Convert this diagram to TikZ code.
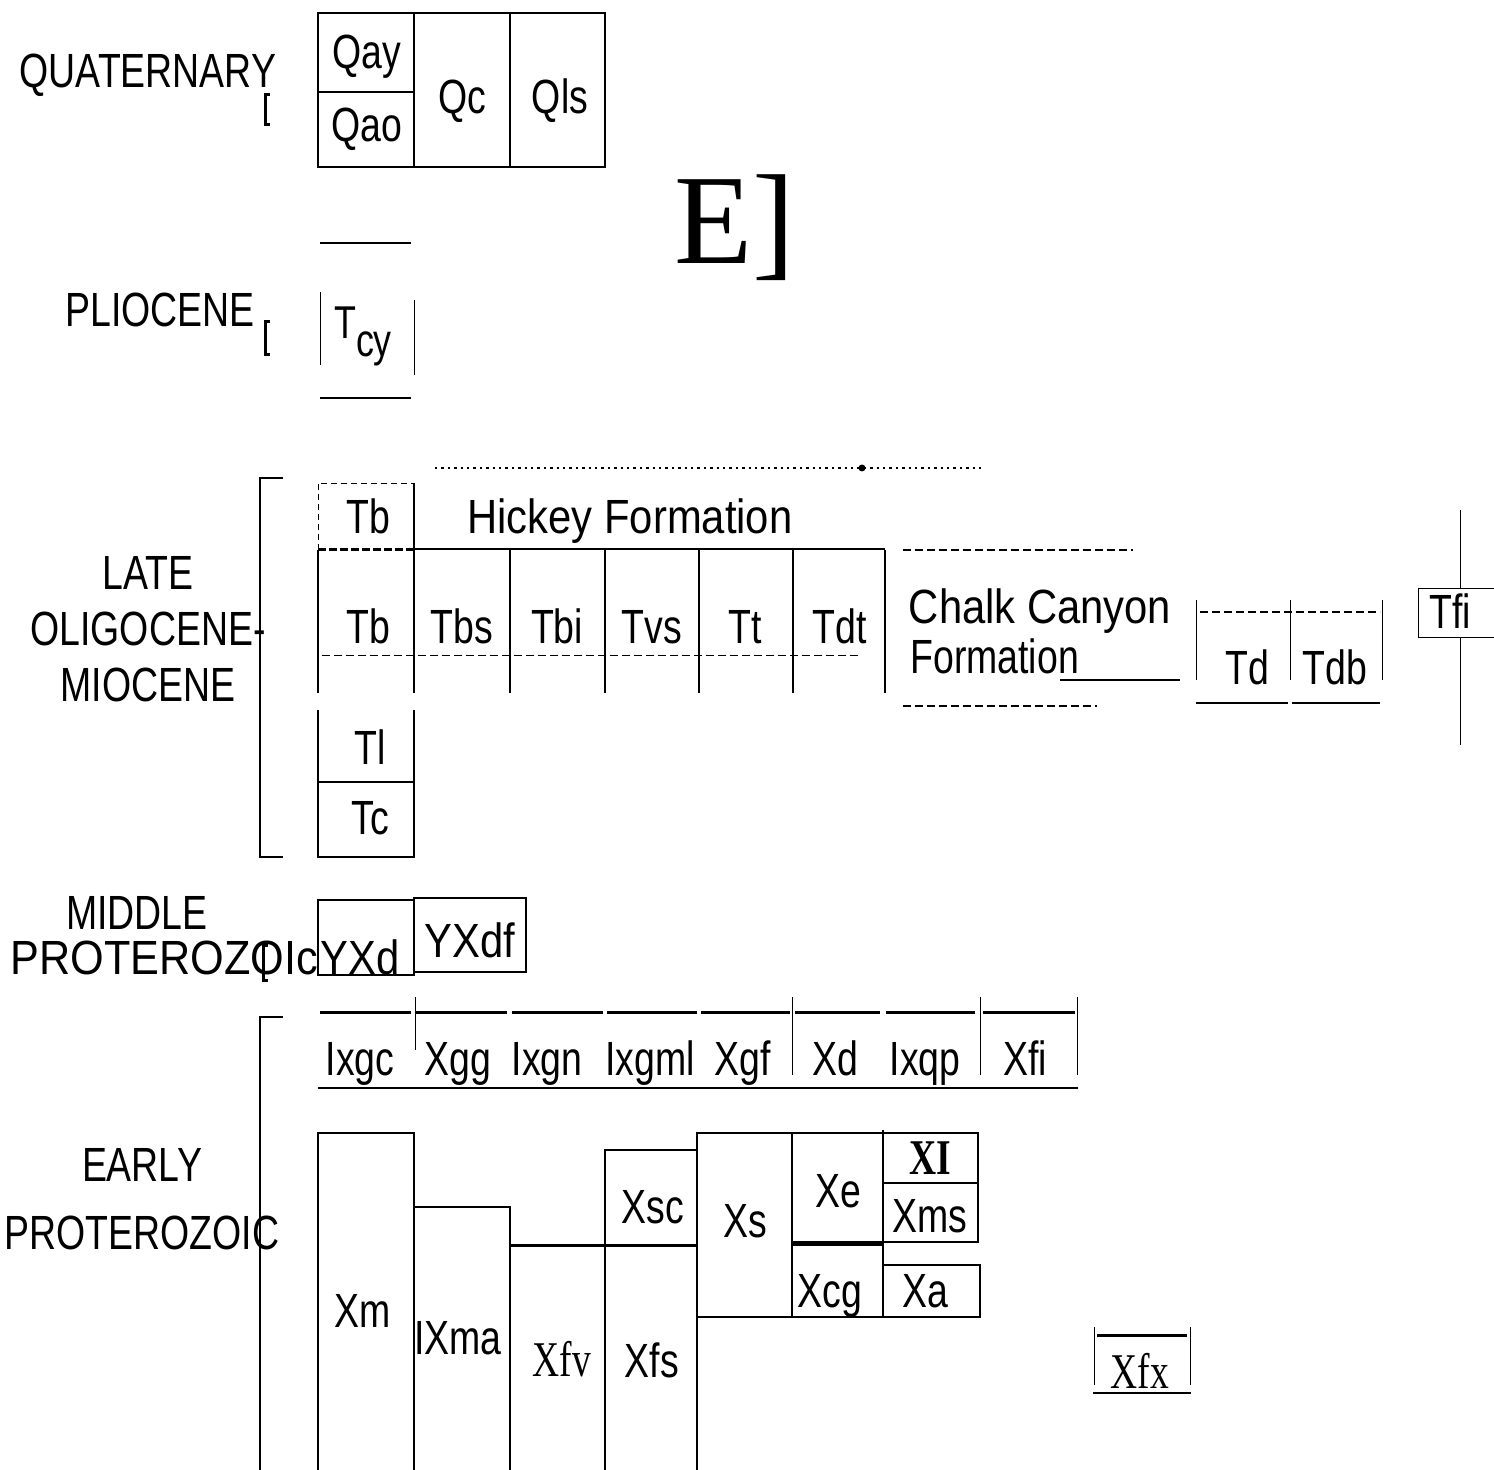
\documentclass[tikz,border=0pt]{standalone}
\usepackage{fontspec}
\setmainfont{Liberation Sans}
\newfontfamily\narrowsf[FakeStretch=0.78]{Liberation Sans}
\newfontfamily\semisf[FakeStretch=0.87]{Liberation Sans}
\newfontfamily\widesf[FakeStretch=0.9]{Liberation Sans}
\newfontfamily\serifrm[FakeStretch=0.75]{Liberation Serif}
\newfontfamily\bigserif{Liberation Serif}
\tikzset{
  unit/.style={font=\narrowsf\fontsize{24}{24}\selectfont, inner sep=0pt, text height=17pt, text depth=0pt},
  wideunit/.style={font=\semisf\fontsize{24}{24}\selectfont, inner sep=0pt, text height=17pt, text depth=0pt},
  serifunit/.style={font=\serifrm\fontsize{25}{25}\selectfont, inner sep=0pt, text height=16pt, text depth=0pt},
  age/.style={font=\narrowsf\fontsize{24}{28}\selectfont, inner sep=0pt, align=center},
  contact/.style={line width=1pt},
  fuzzy/.style={line width=0.6pt, dash pattern=on 4pt off 2pt},
}
\begin{document}
\begin{tikzpicture}[x=0.5pt, y=-0.5pt, line cap=butt, line join=miter]
  \useasboundingbox (0,0) rectangle (1494,1470);

  % Quaternary
  \node[age] (quat) at (148,75) {QUATERNARY};
  \draw[line width=1.5pt] (270,95) -- (265,95) -- (265,125) -- (270,125);
  \draw[contact] (318,13) rectangle (605,167);
  \draw[contact] (414,13) -- (414,167) (510,13) -- (510,167) (318,92) -- (414,92);
  \node[unit] (qay) at (367,52) {Qay};
  \node[unit] (qao) at (367,125) {Qao};
  \node[unit] (qc) at (462,97) {Qc};
  \node[unit] (qls) at (560,97) {Qls};
  \node[font=\bigserif\fontsize{64}{64}\selectfont, inner sep=0pt] (bigE) at (735,228) {E]};

  % Pliocene
  \draw[contact] (320,243) -- (411,243) (320,398) -- (411,398);
  \node[age] (plio) at (160,310) {PLIOCENE};
  \draw[line width=1.5pt] (270,322) -- (265,322) -- (265,355) -- (270,355);
  \draw[thin] (320,292) -- (320,365) (414,300) -- (414,375);
  \node[font=\narrowsf\fontsize{23}{23}\selectfont, inner sep=0pt] (tcy) at (363,336) {T\raisebox{-9pt}{cy}};

  % Late Oligocene-Miocene
  \node[age, font=\narrowsf\fontsize{24}{28}\selectfont] (olig) at (148,629) {LATE\\OLIGOCENE-\\MIOCENE};
  \draw[contact] (283,478) -- (260,478) -- (260,857) -- (283,857);
  \draw[dotted, line width=1.2pt] (435,468) -- (985,468);
  \fill (862,468) circle (3.5);
  \draw[thin, densely dashed] (318,550) -- (318,483) -- (414,483);
  \draw[line width=1.5pt, dash pattern=on 4pt off 1.5pt] (318,550) -- (414,550);
  \draw[contact] (414,483) -- (414,693) (414,549) -- (885,549);
  \foreach \x in {318,510,605,699,793,885} \draw[contact] (\x,550) -- (\x,693);
  \node[unit] (tbtop) at (368,517) {Tb};
  \node[wideunit] (hickey) at (630,517) {Hickey Formation};
  \foreach \x/\t in {368/Tb,462/Tbs,557/Tbi,652/Tvs,745/Tt,840/Tdt}
    \node[unit] (u\t) at (\x,627) {\t};
  \draw[fuzzy, thin] (322,655) -- (860,655);

  % Chalk Canyon
  \draw[fuzzy] (903,550) -- (1133,550) (903,706) -- (1097,706);
  \node[wideunit] (chalk) at (1040,607) {Chalk Canyon};
  \node[unit, anchor=west] (fmn) at (910,657) {Formation};
  \draw[contact] (1060,680) -- (1180,680);
  \draw[thin] (1196,600) -- (1196,680) (1290,600) -- (1290,680) (1382,600) -- (1382,680);
  \draw[fuzzy] (1200,612) -- (1380,612);
  \node[unit] (td) at (1247,667) {Td};
  \node[unit] (tdb) at (1335,667) {Tdb};
  \draw[contact] (1196,703) -- (1288,703) (1292,703) -- (1380,703);
  \draw[thin] (1460,510) -- (1460,745);
  \draw[thin, fill=white] (1494,588) -- (1418,588) -- (1418,637) -- (1494,637);
  \node[unit] (tfi) at (1450,612) {Tfi};
  \draw[contact] (318,710) -- (318,857) -- (414,857) -- (414,710) (318,782) -- (414,782);
  \node[unit] (tl) at (370,747) {Tl};
  \node[unit] (tc) at (370,817) {Tc};

  % Middle Proterozoic
  \node[age] (midtop) at (137,913) {MIDDLE};
  \node[font=\widesf\fontsize{24}{24}\selectfont, inner sep=0pt, anchor=west, text height=17pt, text depth=0pt] (midprot) at (10,957) {PROTEROZOIc};
  \draw[line width=1.5pt] (268,945) -- (263,945) -- (263,980) -- (268,980);
  \draw[contact] (318,900) rectangle (414,975) (414,898) rectangle (526,972);
  \node[wideunit] (yxd) at (360,957) {YXd};
  \node[wideunit] (yxdf) at (470,940) {YXdf};

  % Early Proterozoic
  \node[age, font=\narrowsf\fontsize{24}{34}\selectfont] (early) at (142,1199) {EARLY\\PROTEROZOIC};
  \draw[contact] (283,1017) -- (260,1017) -- (260,1470);
  \foreach \a/\b in {320/411,416/507,512/603,607/697,701/790,795/880,886/975,983/1075}
    \draw[line width=1.5pt] (\a,1012) -- (\b,1012);
  \draw[thin] (415,997) -- (415,1050);
  \foreach \x in {792,980,1077} \draw[thin] (\x,997) -- (\x,1075);
  \foreach \x/\t in {360/Ixgc,458/Xgg,547/Ixgn,650/Ixgml,743/Xgf,835/Xd,925/Ixqp,1025/Xfi}
    \node[unit] (r\t) at (\x,1058) {\t};
  \draw[contact] (318,1088) -- (1078,1088);

  \draw[contact] (318,1470) -- (318,1133) -- (414,1133) -- (414,1470);
  \draw[contact] (414,1207) -- (510,1207) -- (510,1470);
  \draw[line width=1.5pt] (510,1245) -- (697,1245);
  \draw[contact] (605,1470) -- (605,1150) -- (697,1150);
  \draw[contact] (697,1470) -- (697,1133) -- (978,1133) -- (978,1242) -- (883,1242);
  \draw[contact] (792,1133) -- (792,1317) (883,1130) -- (883,1317) (883,1183) -- (978,1183);
  \draw[line width=2.5pt] (792,1243) -- (883,1243);
  \draw[contact] (883,1265) -- (980,1265) -- (980,1317) -- (697,1317);
  \node[unit] (xm) at (363,1310) {Xm};
  \node[unit] (xma) at (458,1337) {IXma};
  \node[serifunit] (xfv) at (562,1360) {Xfv};
  \node[unit] (xsc) at (653,1206) {Xsc};
  \node[unit] (xfs) at (652,1360) {Xfs};
  \node[unit] (xs) at (745,1220) {Xs};
  \node[unit] (xe) at (838,1190) {Xe};
  \node[unit] (xcg) at (830,1290) {Xcg};
  \node[serifunit, font=\serifrm\bfseries\fontsize{25}{25}\selectfont] (xl) at (930,1158) {XI};
  \node[unit] (xms) at (930,1215) {Xms};
  \node[unit] (xa) at (925,1290) {Xa};

  \draw[thin] (1094,1327) -- (1094,1385) (1190,1327) -- (1190,1385);
  \draw[line width=1.5pt] (1097,1335) -- (1187,1335);
  \draw[contact] (1093,1393) -- (1191,1393);
  \node[serifunit] (xfx) at (1140,1372) {Xfx};
\end{tikzpicture}
\end{document}
